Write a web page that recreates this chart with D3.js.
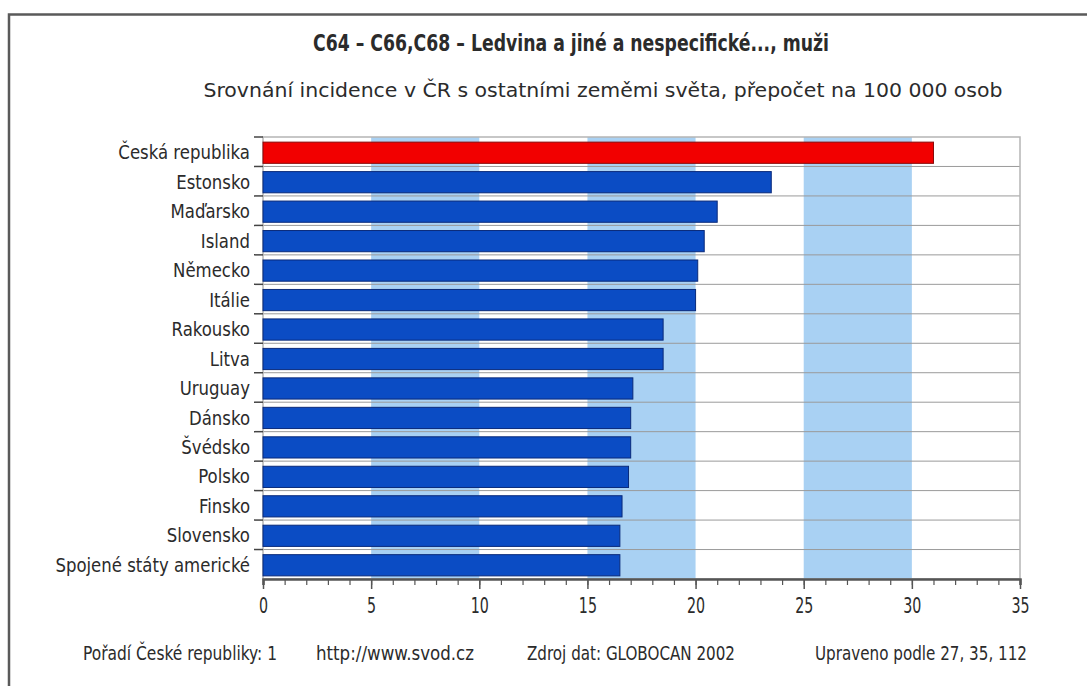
<!DOCTYPE html>
<html>
<head>
<meta charset="utf-8">
<script src="https://cdn.jsdelivr.net/npm/d3@7/dist/d3.min.js"></script>
<style>
  html, body { margin: 0; padding: 0; background: #ffffff; }
  svg { display: block; }
  text { font-family: "DejaVu Sans Condensed", "Liberation Sans Narrow", "Roboto Condensed", "Arial Narrow", sans-serif; fill: #2b2b2b; }
</style>
</head>
<body>
<svg id="chart" width="1087" height="686"></svg>
<script>
const categories = ["Česká republika", "Estonsko", "Maďarsko", "Island", "Německo", "Itálie", "Rakousko", "Litva", "Uruguay", "Dánsko", "Švédsko", "Polsko", "Finsko", "Slovensko", "Spojené státy americké"];
const values = [31.0, 23.5, 21.0, 20.4, 20.1, 20.0, 18.5, 18.5, 17.1, 17.0, 17.0, 16.9, 16.6, 16.5, 16.5];
const highlight = ["Česká republika"];
const xTicks = [0, 5, 10, 15, 20, 25, 30, 35];
const bandStarts = [5, 15, 25];
const titleText = "C64 – C66,C68 – Ledvina a jiné a nespecifické..., muži";
const subtitleText = "Srovnání incidence v ČR s ostatními zeměmi světa, přepočet na 100 000 osob";
const footerTexts = ["Pořadí České republiky: 1", "http://www.svod.cz", "Zdroj dat: GLOBOCAN 2002", "Upraveno podle 27, 35, 112"];

(function () {
const svg = d3.select("#chart");
const pLeft = 263, pRight = 1020, pTop = 137, pBottom = 579;

const x = d3.scaleLinear().domain([0, 35]).range([pLeft, pRight]);
const y = d3.scaleBand().domain(categories).range([pTop, pBottom]).paddingInner(0.28).paddingOuter(0.14);

// outer frame
svg.append("path").attr("d", `M1090,14.5 L9,14.5 L9,690`).attr("fill", "none").attr("stroke", "#5a5a5a").attr("stroke-width", 2.5);

// title
svg.append("text").attr("x", 571).attr("y", 51).attr("text-anchor", "middle")
  .attr("font-size", 23).attr("font-weight", "bold").attr("textLength", 516).attr("lengthAdjust", "spacingAndGlyphs")
  .text(titleText);
svg.append("text").attr("x", 603).attr("y", 97).attr("text-anchor", "middle")
  .attr("font-size", 20).attr("fill", "#333").attr("textLength", 799).attr("lengthAdjust", "spacingAndGlyphs")
  .text(subtitleText);

// plot background
svg.append("rect").attr("x", pLeft).attr("y", pTop).attr("width", pRight - pLeft).attr("height", pBottom - pTop).attr("fill", "#fff");
svg.selectAll("rect.band").data(bandStarts).enter().append("rect").attr("class", "band")
  .attr("x", d => x(d)).attr("y", pTop).attr("width", d => x(d + 5) - x(d)).attr("height", pBottom - pTop)
  .attr("fill", "#a9d1f3");

// row grid lines
const step = y.step();
const bounds = d3.range(1, categories.length).map(i => pTop + i * step);
svg.selectAll("line.grid").data(bounds).enter().append("line").attr("class", "grid")
  .attr("x1", pLeft).attr("x2", pRight).attr("y1", d => d).attr("y2", d => d)
  .attr("stroke", "#9a9a9a").attr("stroke-width", 1);
// plot border
svg.append("rect").attr("x", pLeft).attr("y", pTop).attr("width", pRight - pLeft).attr("height", pBottom - pTop)
  .attr("fill", "none").attr("stroke", "#b5b5b5").attr("stroke-width", 1.5);

// bars
svg.selectAll("rect.bar").data(categories).enter().append("rect").attr("class", "bar")
  .attr("x", x(0)).attr("y", d => y(d) + 1)
  .attr("width", (d, i) => x(values[i]) - x(0))
  .attr("height", y.bandwidth())
  .attr("fill", d => highlight.includes(d) ? "#f20000" : "#0b4cc4")
  .attr("stroke", d => highlight.includes(d) ? "#8a0a0a" : "#0a2a7a").attr("stroke-width", 1);

// y labels
svg.selectAll("text.cat").data(categories).enter().append("text").attr("class", "cat")
  .attr("transform", d => `translate(250,${y(d) + y.bandwidth() / 2 + 1}) scale(0.92,1)`)
  .attr("dy", "0.33em")
  .attr("text-anchor", "end").attr("font-size", 20).text(d => d);

// y ticks
const yTickPos = d3.range(0, categories.length).map(i => pTop + i * step);
svg.selectAll("line.ytick").data(yTickPos).enter().append("line").attr("class", "ytick")
  .attr("x1", pLeft - 9).attr("x2", pLeft).attr("y1", d => d).attr("y2", d => d)
  .attr("stroke", "#444").attr("stroke-width", 1.5);

// x axis
const xAxisG = svg.append("g").attr("transform", `translate(0,${pBottom})`);
xAxisG.call(d3.axisBottom(x).tickValues(d3.range(0, 36, 1)).tickSize(6).tickFormat(""));
xAxisG.selectAll("line").attr("stroke", "#555").attr("stroke-width", 1.2);
xAxisG.select(".domain").attr("stroke", "#555").attr("stroke-width", 2.5);
const xMajor = svg.append("g").attr("transform", `translate(0,${pBottom})`);
xMajor.call(d3.axisBottom(x).tickValues(xTicks).tickSize(10).tickPadding(8).tickFormat(d3.format("d")));
xMajor.select(".domain").remove();
xMajor.selectAll("line").attr("stroke", "#555").attr("stroke-width", 1.5);
xMajor.selectAll("text").attr("font-size", 22).attr("fill", "#2b2b2b")
  .attr("font-family", "\"DejaVu Sans Condensed\", \"Liberation Sans Narrow\", sans-serif")
  .attr("transform", "scale(0.72,1)");

// footer
const footerX = [180, 395, 631, 921];
const footerW = [194, 158, 208, 212];
svg.selectAll("text.foot").data(footerTexts).enter().append("text").attr("class", "foot")
  .attr("x", (d, i) => footerX[i]).attr("y", 660).attr("text-anchor", "middle")
  .attr("font-size", 20).attr("fill", "#333")
  .attr("textLength", (d, i) => footerW[i]).attr("lengthAdjust", "spacingAndGlyphs")
  .text(d => d);
})();
</script>
</body>
</html>
